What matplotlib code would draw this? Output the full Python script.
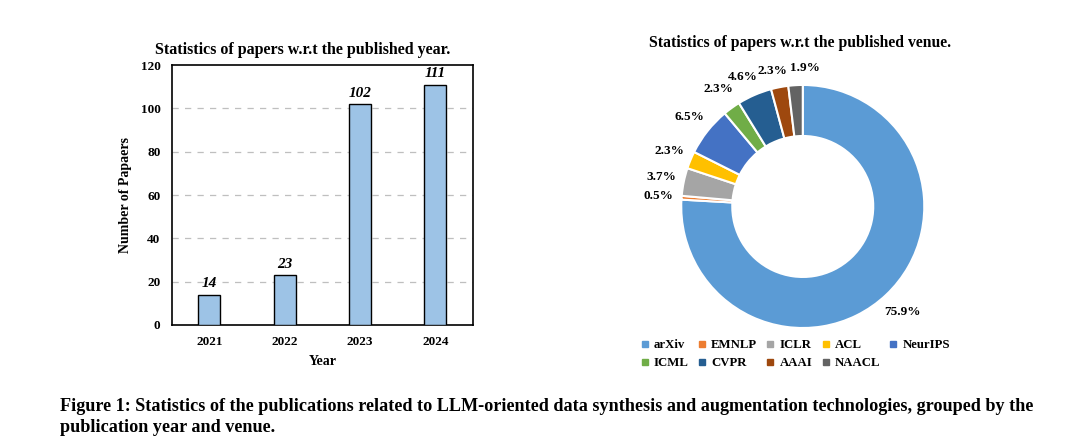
import matplotlib
matplotlib.use("Agg")
import matplotlib.pyplot as plt
from matplotlib.lines import Line2D

# ---- data ----
years = ["2021", "2022", "2023", "2024"]
paper_counts = [14, 23, 102, 111]
y_ticks = [0, 20, 40, 60, 80, 100, 120]

venues = ["arXiv", "EMNLP", "ICLR", "ACL", "NeurIPS", "ICML", "CVPR", "AAAI", "NAACL"]
venue_pct = [75.9, 0.5, 3.7, 2.3, 6.5, 2.3, 4.6, 2.3, 1.9]
venue_colors = ["#5B9BD5", "#ED7D31", "#A5A5A5", "#FFC000", "#4472C4",
                "#70AD47", "#255E91", "#9E480E", "#636363"]

caption = ("Figure 1: Statistics of the publications related to LLM-oriented data synthesis and "
           "augmentation technologies, grouped by the\npublication year and venue.")

plt.rcParams['font.family'] = ['Liberation Serif', 'DejaVu Serif']

fig = plt.figure(figsize=(10.8, 4.45), dpi=100)
fig.patch.set_facecolor("white")

# ---- bar chart ----
ax = fig.add_axes([0.159, 0.2697, 0.279, 0.584])
x = list(range(len(years)))
ax.bar(x, paper_counts, width=0.29, color="#9DC3E6", edgecolor="black",
       linewidth=1.0, zorder=3)
for xi, v in zip(x, paper_counts):
    ax.text(xi, v + 2, str(v), ha="center", va="bottom", fontsize=11,
            fontweight="bold", fontstyle="italic", zorder=4)
ax.set_xlim(-0.5, len(years) - 0.5)
ax.set_ylim(0, 120)
ax.set_yticks(y_ticks)
ax.set_yticklabels([str(t) for t in y_ticks], fontweight="bold", fontsize=9.5)
ax.set_xticks(x)
ax.set_xticklabels(years, fontweight="bold", fontsize=9.5)
ax.tick_params(axis="both", length=0)
ax.tick_params(axis="y", pad=8)
ax.tick_params(axis="x", pad=8)
for g in y_ticks[1:-1]:
    ax.axhline(g, color="#BFBFBF", linestyle=(0, (5, 5)), linewidth=0.9, zorder=1)
for s in ax.spines.values():
    s.set_linewidth(1.2)
    s.set_color("black")
ax.set_xlabel("Year", fontweight="bold", fontsize=10, labelpad=5)
ax.set_ylabel("Number of Papaers", fontweight="bold", fontsize=10, labelpad=6)
ax.set_title("Statistics of papers w.r.t the published year.", fontweight="bold",
             fontsize=11.5, pad=8, x=0.436)

# ---- donut chart ----
pax = fig.add_axes([0.597, 0.181, 0.2926, 0.710])
wedges, _texts, autotexts = pax.pie(
    venue_pct, colors=venue_colors, startangle=90, counterclock=False,
    radius=1.0, wedgeprops=dict(width=0.42, edgecolor="white", linewidth=1.5),
    autopct=lambda p: f"{p:.1f}%", pctdistance=1.19,
    textprops=dict(fontsize=9.5, fontweight="bold"))
for t, v in zip(autotexts, venue_pct):
    t.set_text(f"{v:.1f}%")
# small nudges to keep the crowded top labels apart (as in the reference)
nudges = {6: (-0.02, -0.03), 7: (-0.02, -0.05), 8: (0.09, -0.05)}
for i, (dx, dy) in nudges.items():
    px, py = autotexts[i].get_position()
    autotexts[i].set_position((px + dx, py + dy))
pax.set_xlim(-1.3, 1.3)
pax.set_ylim(-1.3, 1.3)
pax.set_aspect("equal")
pax.axis("off")
fig.text(0.7407, 0.903, "Statistics of papers w.r.t the published venue.",
         ha="center", va="center", fontweight="bold", fontsize=11.3)

# legend, filled row-wise (5 columns)
ncol = 5
order = []
nrows = 2
for c in range(ncol):
    for r in range(nrows):
        idx = r * ncol + c
        if idx < len(venues):
            order.append(idx)
handles = [Line2D([0], [0], marker="s", linestyle="none", markersize=4,
                  markerfacecolor=venue_colors[i], markeredgecolor=venue_colors[i])
           for i in order]
labels = [venues[i] for i in order]
fig.legend(handles, labels, ncol=ncol, loc="center", bbox_to_anchor=(0.7365, 0.204),
           frameon=False, handlelength=0.6, handletextpad=0.4,
           columnspacing=0.75, labelspacing=0.5,
           prop=dict(weight="bold", size=9.2))

# ---- caption ----
fig.text(0.0556, 0.0630, caption, ha="left", va="center",
         fontsize=13.1, fontweight="bold", linespacing=1.3)

fig.savefig("out.png", dpi=100, facecolor="white")
